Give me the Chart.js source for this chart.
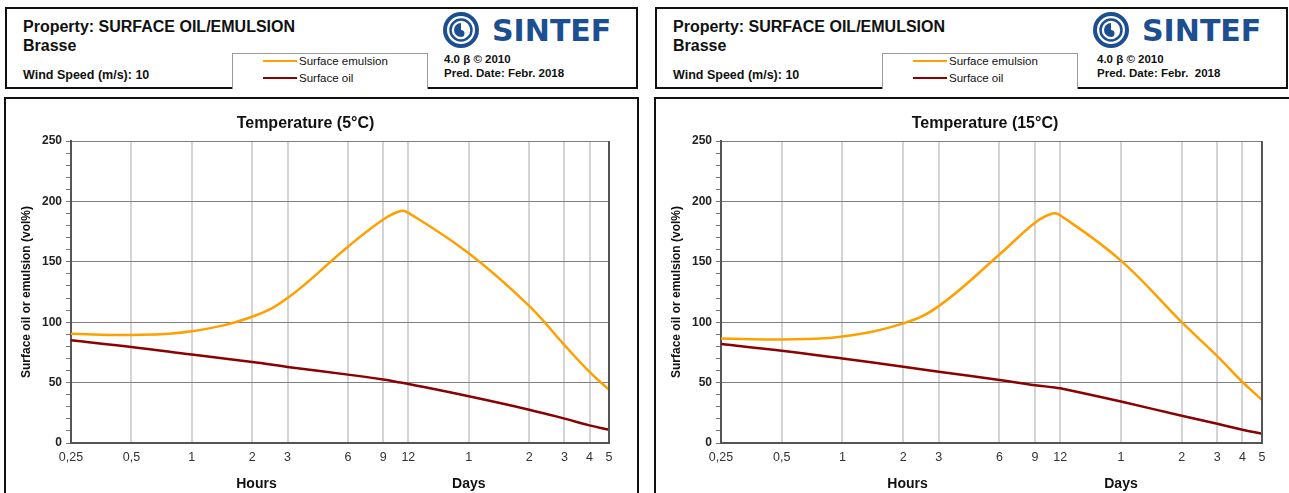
<!DOCTYPE html>
<html>
<head>
<meta charset="utf-8">
<script src="https://cdn.jsdelivr.net/npm/chart.js@4.4.1/dist/chart.umd.min.js"></script>
<style>
    body { margin: 0; width: 1289px; height: 493px; overflow: hidden; background: #fff; position: relative;
           font-family: 'Liberation Sans', Arial, sans-serif; color: #111; }
    .box { position: absolute; border: 2px solid #111; box-sizing: border-box; }
    .txt { position: absolute; white-space: pre; font-weight: bold; }
    .prop { font-size: 16px; line-height: 19px; }
    .small { font-size: 11.5px; }
    .wind { font-size: 12.5px; }
    .legend { position: absolute; border: 1px solid #9a9a9a; border-bottom: none; background: #fff; box-sizing: border-box; }
    .legend .item { position: absolute; left: 30px; font-size: 11.5px; height: 13px; line-height: 13px; }
    .legend .item span { display: inline-block; width: 34px; height: 2px; vertical-align: middle; margin-right: 2px; position: relative; top: -1px; }
    .logo { position: absolute; display: flex; align-items: center; }
    .logo b { font-family: 'DejaVu Sans', sans-serif; font-size: 30px; color: #1c4f91; margin-left: 12px; }
    canvas { position: absolute; }
</style>
</head>
<body>

<!-- left header -->
<div class="box" style="left:5px; top:7px; width:633px; height:82px;"></div>
<div class="txt prop" style="left:23px; top:17px;">Property: SURFACE OIL/EMULSION<br>Brasse</div>
<div class="txt wind" style="left:23px; top:68px;">Wind Speed (m/s): 10</div>
<div class="legend" style="left:232px; top:53px; width:196px; height:36px;">
    <div class="item" style="top:1px;"><span style="background:#ffa000"></span>Surface emulsion</div>
    <div class="item" style="top:18px;"><span style="background:#8b0000"></span>Surface oil</div>
</div>
<div class="logo" style="left:442px; top:11px;">
    <svg width="38" height="38" viewBox="0 0 38 38">
        <circle cx="19" cy="19" r="16" fill="none" stroke="#1c4f91" stroke-width="4"/>
        <circle cx="19" cy="19" r="10.5" fill="none" stroke="#1c4f91" stroke-width="2.5"/>
        <path d="M19 12 a7 7 0 0 0 0 14 a3.5 3.5 0 0 0 0 -7 z" fill="#1c4f91"/>
    </svg><b>SINTEF</b>
</div>
<div class="txt small" style="left:444px; top:53px;">4.0 β © 2010</div>
<div class="txt small" style="left:444px; top:67px;">Pred. Date: Febr. 2018</div>

<!-- right header -->
<div class="box" style="left:655px; top:7px; width:633px; height:82px;"></div>
<div class="txt prop" style="left:673px; top:17px;">Property: SURFACE OIL/EMULSION<br>Brasse</div>
<div class="txt wind" style="left:673px; top:68px;">Wind Speed (m/s): 10</div>
<div class="legend" style="left:882px; top:53px; width:196px; height:36px;">
    <div class="item" style="top:1px;"><span style="background:#ffa000"></span>Surface emulsion</div>
    <div class="item" style="top:18px;"><span style="background:#8b0000"></span>Surface oil</div>
</div>
<div class="logo" style="left:1092px; top:11px;">
    <svg width="38" height="38" viewBox="0 0 38 38">
        <circle cx="19" cy="19" r="16" fill="none" stroke="#1c4f91" stroke-width="4"/>
        <circle cx="19" cy="19" r="10.5" fill="none" stroke="#1c4f91" stroke-width="2.5"/>
        <path d="M19 12 a7 7 0 0 0 0 14 a3.5 3.5 0 0 0 0 -7 z" fill="#1c4f91"/>
    </svg><b>SINTEF</b>
</div>
<div class="txt small" style="left:1097px; top:53px;">4.0 β © 2010</div>
<div class="txt small" style="left:1097px; top:67px;">Pred. Date: Febr.  2018</div>

<!-- chart boxes -->
<div class="box" style="left:4px; top:97px; width:635px; height:410px;"></div>
<div class="box" style="left:654px; top:97px; width:645px; height:410px;"></div>

<canvas id="chart5" width="630" height="394" style="left:6px; top:99px;"></canvas>
<canvas id="chart15" width="633" height="394" style="left:656px; top:99px;"></canvas>

<script>
// time in hours (log axis)
var hours = [0.25, 0.5, 1, 2, 3, 6, 9, 11, 12, 24, 48, 72, 96, 120];

var emulsion5 = [90.5, 89.4, 92.5, 104.5, 120, 162.5, 185, 192, 190.5, 157, 113.5, 81, 58.8, 44.2];
var oil5      = [85, 79.5, 73.2, 67, 63, 56.6, 52.5, 50, 48.9, 38.7, 27.6, 20.2, 14.6, 11];

var emulsion15 = [86.5, 85.7, 88.2, 99, 113.3, 156, 182.4, 190, 188.5, 151, 100, 72, 50.5, 35.7];
var oil15      = [81.9, 76.4, 70, 63.2, 59, 52.2, 47.8, 46.2, 45.3, 34.3, 22.5, 15.9, 11, 7.7];

var xTickValues = [0.25, 0.5, 1, 2, 3, 6, 9, 12, 24, 48, 72, 96, 120];
var xTickLabels = ['0,25', '0,5', '1', '2', '3', '6', '9', '12', '1', '2', '3', '4', '5'];

var FONT = "'Liberation Sans', Arial, sans-serif";
Chart.defaults.font.family = FONT;
Chart.defaults.color = '#222';

function toPoints(values) {
    return hours.map(function (h, i) { return {x: h, y: values[i]}; });
}

function makeChart(canvasId, title, titleX, emulsion, oil) {
    // title, unit captions and right border of the plot area
    var decorations = {
        id: 'decorations',
        afterDraw: function (chart) {
            var ctx = chart.ctx;
            var area = chart.chartArea;
            var xs = chart.scales.x;
            ctx.save();
            ctx.strokeStyle = '#555';
            ctx.lineWidth = 2;
            ctx.beginPath();
            ctx.moveTo(area.right, area.top);
            ctx.lineTo(area.right, area.bottom);
            ctx.stroke();

            ctx.fillStyle = '#111';
            ctx.textAlign = 'center';
            ctx.textBaseline = 'middle';
            ctx.font = 'bold 16px ' + FONT;
            ctx.fillText(title, titleX, 25);

            ctx.font = 'bold 14px ' + FONT;
            ctx.fillText('Hours', xs.getPixelForValue(2.1), 385);
            ctx.fillText('Days', xs.getPixelForValue(24), 385);
            ctx.restore();
        }
    };

    new Chart(document.getElementById(canvasId), {
        type: 'line',
        data: {
            datasets: [{
                label: 'Surface emulsion',
                data: toPoints(emulsion),
                borderColor: '#ffa000',
                borderWidth: 2.5,
                pointRadius: 0,
                tension: 0.4
            }, {
                label: 'Surface oil',
                data: toPoints(oil),
                borderColor: '#8b0000',
                borderWidth: 2.5,
                pointRadius: 0,
                tension: 0.4
            }]
        },
        options: {
            responsive: false,
            animation: false,
            devicePixelRatio: 1,
            layout: {padding: {top: 42, right: 27, left: 0, bottom: 0}},
            plugins: {legend: {display: false}, tooltip: {enabled: false}},
            scales: {
                x: {
                    type: 'logarithmic',
                    min: 0.25,
                    max: 120,
                    afterBuildTicks: function (scale) {
                        scale.ticks = xTickValues.map(function (v) { return {value: v}; });
                    },
                    afterFit: function (scale) { scale.height = 50; },
                    ticks: {
                        autoSkip: false,
                        maxRotation: 0,
                        padding: 7,
                        color: '#333',
                        font: {size: 12.5},
                        callback: function (value, index) { return xTickLabels[index]; }
                    },
                    grid: {color: '#d4d4d4', lineWidth: 2, drawTicks: false},
                    border: {color: '#555', width: 2}
                },
                y: {
                    min: 0,
                    max: 250,
                    afterFit: function (scale) { scale.width = 65; },
                    ticks: {
                        stepSize: 10,
                        autoSkip: false,
                        padding: 4,
                        color: '#222',
                        font: {size: 12, weight: 'bold'},
                        callback: function (value) { return value % 50 === 0 ? value : ''; }
                    },
                    grid: {
                        color: function (c) {
                            return c.tick && c.tick.value % 50 === 0 ? '#808080' : 'rgba(0,0,0,0)';
                        },
                        tickColor: '#777',
                        tickLength: 5,
                        lineWidth: 1
                    },
                    border: {color: '#555', width: 2},
                    title: {
                        display: true,
                        text: 'Surface oil or emulsion (vol%)',
                        color: '#111',
                        font: {size: 12, weight: 'bold'},
                        padding: {top: 13, bottom: 0}
                    }
                }
            }
        },
        plugins: [decorations]
    });
}

makeChart('chart5', 'Temperature (5°C)', 299.5, emulsion5, oil5);
makeChart('chart15', 'Temperature (15°C)', 329, emulsion15, oil15);
</script>
</body>
</html>
